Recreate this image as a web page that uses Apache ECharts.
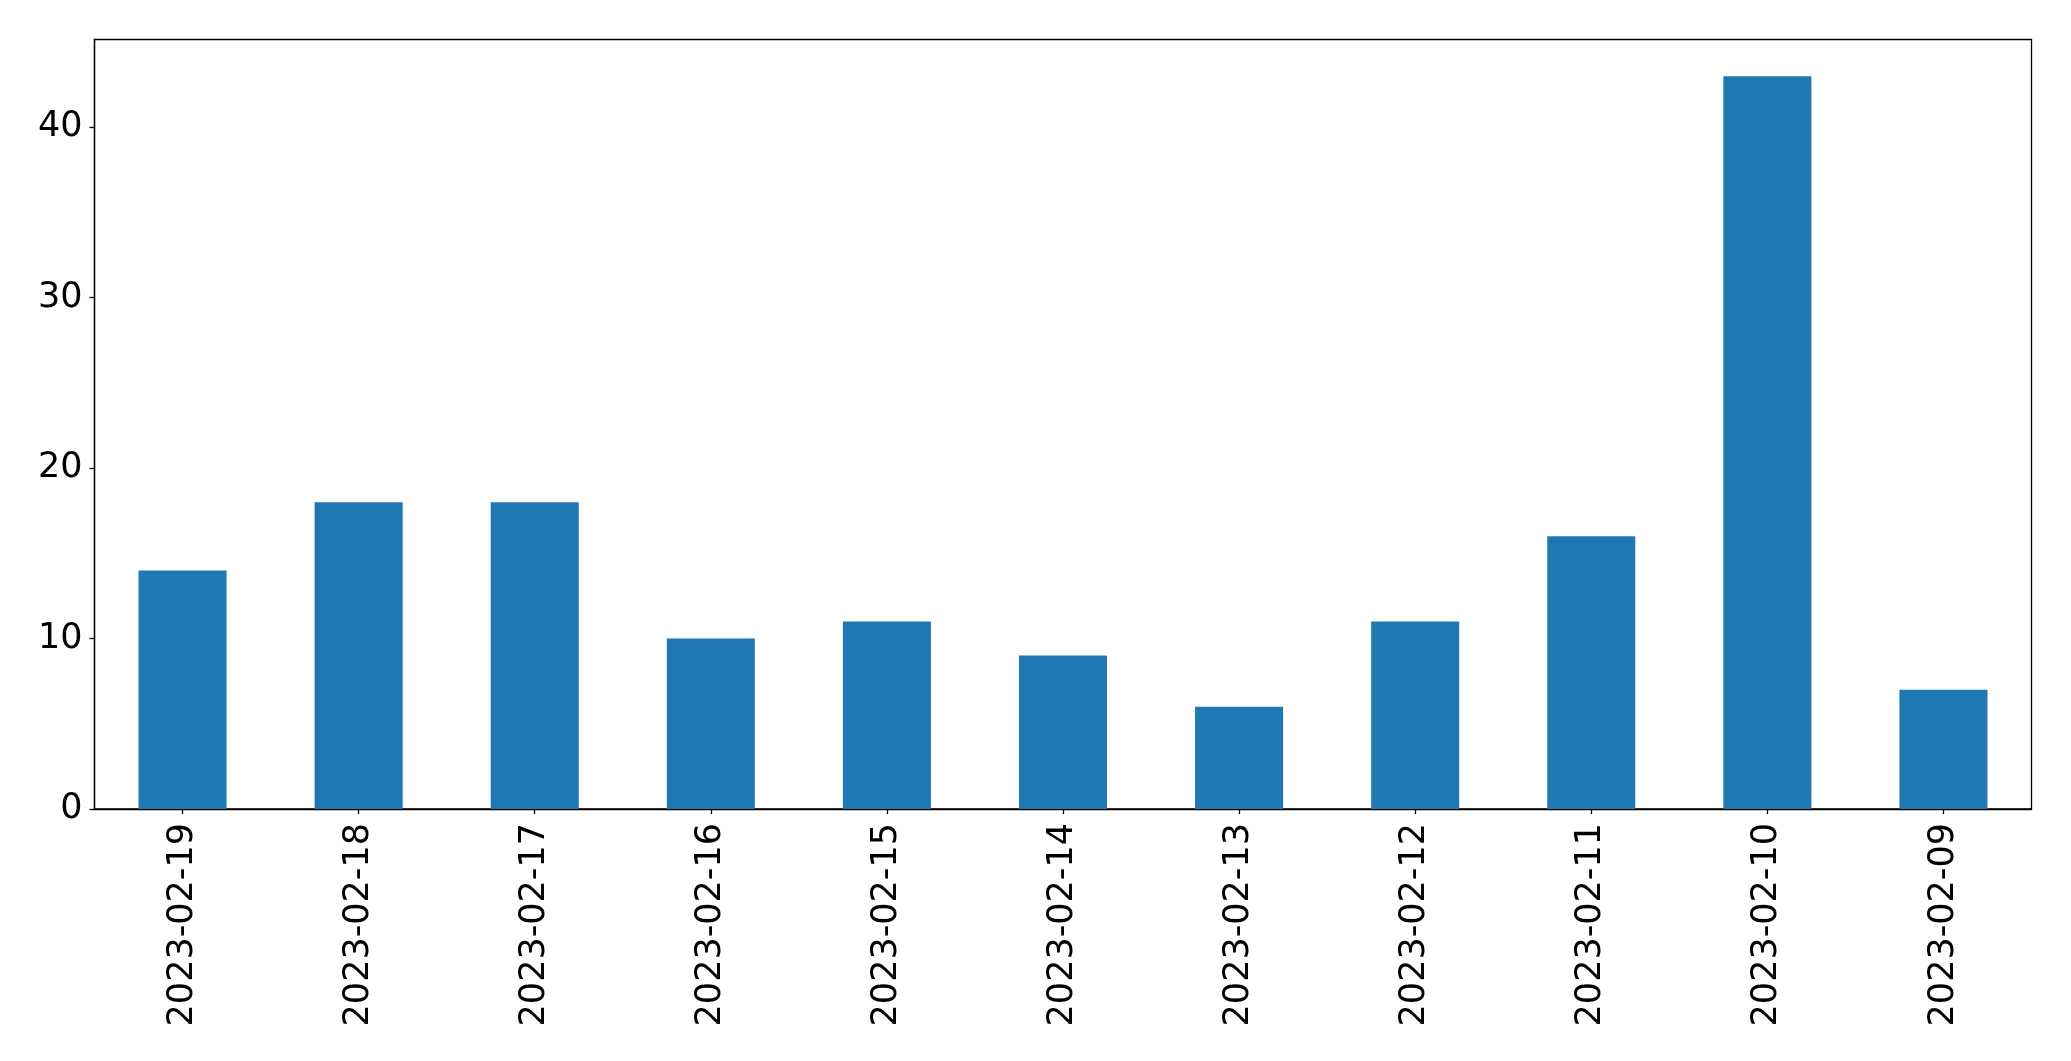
<!DOCTYPE html>
<html><head><meta charset="utf-8">
<script src="https://cdn.jsdelivr.net/npm/echarts@6/dist/echarts.min.js"></script>
<style>html,body{margin:0;padding:0;background:#fff}#c{width:2071px;height:1061px}</style>
</head><body><div id="c"></div>
<script>
const categories = ["2023-02-19","2023-02-18","2023-02-17","2023-02-16","2023-02-15","2023-02-14","2023-02-13","2023-02-12","2023-02-11","2023-02-10","2023-02-09"];
const values = [14, 18, 18, 10, 11, 9, 6, 11, 16, 43, 7];
const yTicks = [0, 10, 20, 30, 40];

const chart = echarts.init(document.getElementById('c'), null, {renderer: 'canvas'});
const font = 'DejaVu Sans';
chart.setOption({
  animation: false,
  backgroundColor: '#fff',
  grid: {left: 94.5, right: 39.5, top: 39.5, bottom: 252, show: true, borderColor: '#000', borderWidth: 1.3, containLabel: false},
  xAxis: {
    type: 'category', data: categories, boundaryGap: true,
    axisLine: {show: true, lineStyle: {color: '#000', width: 1.3}},
    axisTick: {show: true, alignWithLabel: true, length: 5, lineStyle: {color: '#000', width: 1.3}},
    axisLabel: {rotate: 90, fontFamily: font, fontSize: 35, color: '#000', margin: 14, interval: 0},
    splitLine: {show: false}
  },
  yAxis: {
    type: 'value', min: 0, max: 45.15,
    axisLine: {show: true, lineStyle: {color: '#000', width: 1.3}},
    axisTick: {show: true, length: 5, customValues: yTicks, lineStyle: {color: '#000', width: 1.3}},
    axisLabel: {fontFamily: font, fontSize: 35, color: '#000', margin: 12, customValues: yTicks},
    splitLine: {show: false}
  },
  series: [{type: 'bar', data: values, barWidth: '50%', itemStyle: {color: '#1f77b4'}}]
});
</script></body></html>
